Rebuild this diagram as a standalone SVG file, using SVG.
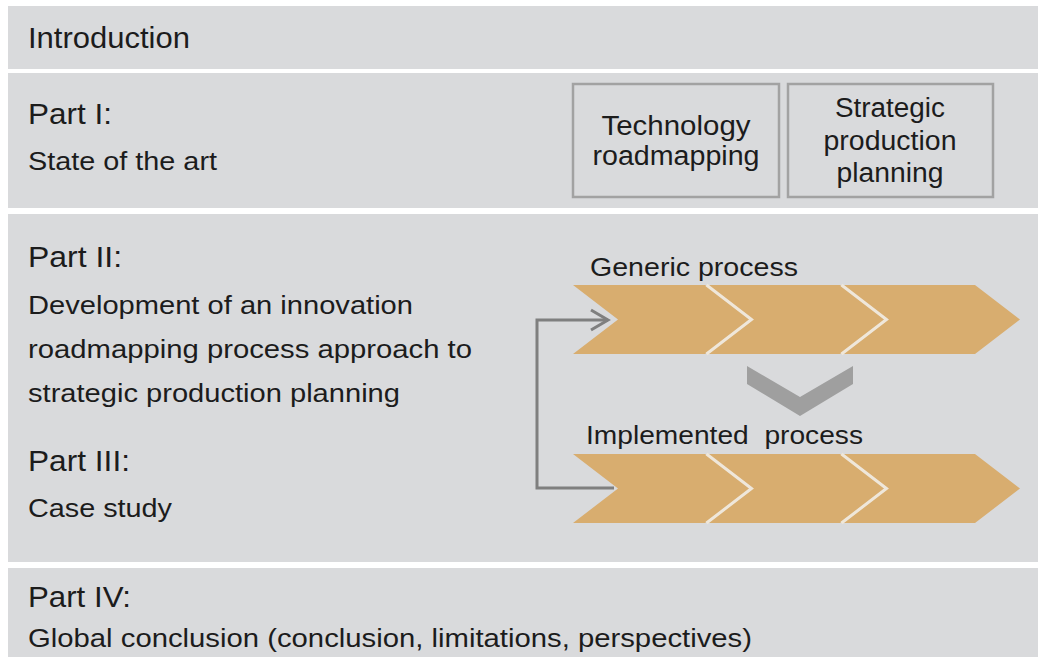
<svg xmlns="http://www.w3.org/2000/svg" width="1038" height="657" viewBox="0 0 1038 657">
<defs>
<style>
.band{fill:#d9dadc}
.t{font-family:"Liberation Sans",Arial,sans-serif;fill:#1c1c1c}
.h{font-size:29px}
.b{font-size:26px}
.c{text-anchor:middle;font-size:27px}
.box{fill:none;stroke:#a2a2a2;stroke-width:2.5}
.chev{fill:#d8ad6f}
.sep{fill:none;stroke:#efe7da;stroke-width:3}
.conn{fill:none;stroke:#7f7f7f;stroke-width:3;stroke-linejoin:miter}
</style>
<polygon id="chev" points="0,0 132,0 177,34.5 132,69 0,69 45,34.5"/>
<polyline id="sepl" points="0,0 45,34.5 0,69"/>
</defs>
<rect width="1038" height="657" fill="#ffffff"/>
<g id="introduction">
<rect class="band" x="8" y="6" width="1030" height="63"/>
<text class="t" x="28" y="48" font-size="30" textLength="162" lengthAdjust="spacingAndGlyphs">Introduction</text>
</g>
<g id="part1">
<rect class="band" x="8" y="73" width="1030" height="135"/>
<text class="t h" x="28" y="124" textLength="84" lengthAdjust="spacingAndGlyphs">Part I:</text>
<text class="t b" x="28" y="170" textLength="189" lengthAdjust="spacingAndGlyphs">State of the art</text>
</g>
<g id="technology-roadmapping">
<rect class="box" x="573" y="84" width="206" height="113"/>
<text class="t c" x="676" y="135" textLength="149" lengthAdjust="spacingAndGlyphs">Technology</text>
<text class="t c" x="676" y="165" textLength="167" lengthAdjust="spacingAndGlyphs">roadmapping</text>
</g>
<g id="strategic-production-planning">
<rect class="box" x="788" y="84" width="205" height="113"/>
<text class="t c" x="890" y="117" textLength="110" lengthAdjust="spacingAndGlyphs">Strategic</text>
<text class="t c" x="890" y="150" textLength="133" lengthAdjust="spacingAndGlyphs">production</text>
<text class="t c" x="890" y="182" textLength="107" lengthAdjust="spacingAndGlyphs">planning</text>
</g>
<g id="part2-3">
<rect class="band" x="8" y="214" width="1030" height="348"/>
<text class="t h" x="28" y="267" textLength="94" lengthAdjust="spacingAndGlyphs">Part II:</text>
<text class="t b" x="28" y="314" textLength="385" lengthAdjust="spacingAndGlyphs">Development of an innovation</text>
<text class="t b" x="28" y="358" textLength="444" lengthAdjust="spacingAndGlyphs">roadmapping process approach to</text>
<text class="t b" x="28" y="402" textLength="372" lengthAdjust="spacingAndGlyphs">strategic production planning</text>
<text class="t h" x="28" y="471" textLength="102" lengthAdjust="spacingAndGlyphs">Part III:</text>
<text class="t b" x="28" y="517" textLength="144" lengthAdjust="spacingAndGlyphs">Case study</text>
</g>
<g id="generic-process">
<text class="t" x="590" y="276" font-size="25" textLength="208" lengthAdjust="spacingAndGlyphs">Generic process</text>
<use href="#chev" class="chev" x="573" y="285"/>
<use href="#chev" class="chev" x="708" y="285"/>
<use href="#chev" class="chev" x="843" y="285"/>
<use href="#sepl" class="sep" x="706.5" y="285"/>
<use href="#sepl" class="sep" x="841.5" y="285"/>
</g>
<g id="implemented-process">
<text class="t" x="586" y="444" font-size="25" textLength="277" lengthAdjust="spacingAndGlyphs" xml:space="preserve">Implemented  process</text>
<use href="#chev" class="chev" x="573" y="454"/>
<use href="#chev" class="chev" x="708" y="454"/>
<use href="#chev" class="chev" x="843" y="454"/>
<use href="#sepl" class="sep" x="706.5" y="454"/>
<use href="#sepl" class="sep" x="841.5" y="454"/>
</g>
<g id="connectors">
<polygon points="747,366 800,397 853,366 853,384 800,416 747,384" fill="#9f9f9f"/>
<path class="conn" d="M614,488 H537 V320 H608"/>
<polyline class="conn" points="591,310 608,320 591,330"/>
</g>
<g id="part4">
<rect class="band" x="8" y="568" width="1030" height="89"/>
<text class="t h" x="28" y="607" textLength="103" lengthAdjust="spacingAndGlyphs">Part IV:</text>
<text class="t b" x="28" y="647" textLength="724" lengthAdjust="spacingAndGlyphs">Global conclusion (conclusion, limitations, perspectives)</text>
</g>
</svg>
